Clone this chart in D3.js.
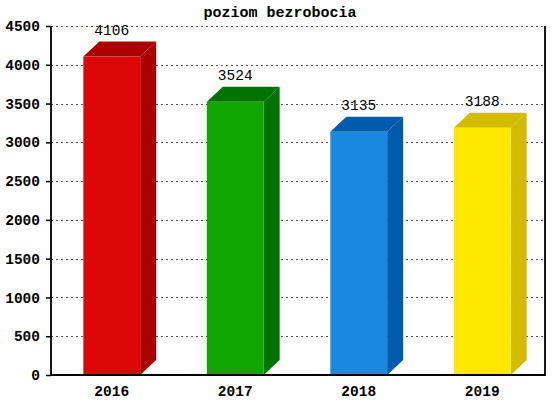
<!DOCTYPE html>
<html>
<head>
<meta charset="utf-8">
<script src="https://cdn.jsdelivr.net/npm/d3@7"></script>
<style>
  body { margin: 0; background: #fff; }
  text { font-family: "Liberation Mono", "DejaVu Sans Mono", monospace; }
</style>
</head>
<body>
<div id="chart"></div>
<script>
var years = ["2016", "2017", "2018", "2019"];
var values = [4106, 3524, 3135, 3188];
var frontColors = ["#dc0808", "#11a500", "#1a88dc", "#ffe800"];
var sideColors = ["#aa0000", "#007300", "#005bac", "#d3bb00"];
var yTicks = [0, 500, 1000, 1500, 2000, 2500, 3000, 3500, 4000, 4500];

var W = 560, H = 400;
var m = { left: 51, right: 15, top: 26, bottom: 25 };
var depthX = 16, depthY = 15;

var svg = d3.select("#chart").append("svg")
    .attr("width", W)
    .attr("height", H);

var x = d3.scaleBand()
    .domain(years)
    .range([m.left, W - m.right]);

var y = d3.scaleLinear()
    .domain([0, 4500])
    .range([H - m.bottom, m.top]);

var barW = x.bandwidth() * 0.46;
var barX = function(d) { return x(d) + (x.bandwidth() - barW) / 2 - 1; };

// grid
svg.append("g").selectAll("line")
    .data(yTicks.filter(function(t) { return t > 0; }))
    .enter().append("line")
    .attr("x1", m.left).attr("x2", W - m.right)
    .attr("y1", function(d) { return Math.round(y(d)) + 0.5; })
    .attr("y2", function(d) { return Math.round(y(d)) + 0.5; })
    .attr("stroke", "#555")
    .attr("stroke-dasharray", "2,3");

// bars
var data = years.map(function(yr, i) {
  return { year: yr, value: values[i], front: frontColors[i], side: sideColors[i] };
});

var bars = svg.append("g").selectAll("g")
    .data(data)
    .enter().append("g");

bars.append("polygon")
    .attr("fill", function(d) { return d.side; })
    .attr("points", function(d) {
      var x0 = barX(d.year), x1 = x0 + barW, yt = y(d.value), yb = y(0);
      return [[x1, yt], [x1 + depthX, yt - depthY], [x1 + depthX, yb - depthY], [x1, yb]].join(" ");
    });

bars.append("polygon")
    .attr("fill", function(d) { return d.side; })
    .attr("points", function(d) {
      var x0 = barX(d.year), x1 = x0 + barW, yt = y(d.value);
      return [[x0, yt], [x0 + depthX, yt - depthY], [x1 + depthX, yt - depthY], [x1, yt]].join(" ");
    });

bars.append("rect")
    .attr("fill", function(d) { return d.front; })
    .attr("x", function(d) { return barX(d.year); })
    .attr("y", function(d) { return y(d.value); })
    .attr("width", barW)
    .attr("height", function(d) { return y(0) - y(d.value); });

bars.append("text")
    .attr("x", function(d) { return barX(d.year) + barW / 2; })
    .attr("y", function(d) { return y(d.value) - depthY - 7; })
    .attr("text-anchor", "middle")
    .attr("font-size", 14.5)
    .attr("fill", "#000")
    .text(function(d) { return d.value; });

// axes
var yAxis = svg.append("g")
    .attr("transform", "translate(" + m.left + ",0)")
    .call(d3.axisLeft(y).tickValues(yTicks).tickFormat(function(d) { return d; })
      .tickSize(5).tickPadding(6));
yAxis.select(".domain").remove();
yAxis.selectAll("line").attr("stroke", "#000").attr("stroke-width", 1.5);
yAxis.selectAll("text")
    .attr("font-family", "Liberation Mono")
    .attr("font-size", 14.5)
    .attr("font-weight", "bold")
    .attr("fill", "#000");

var xAxis = svg.append("g")
    .attr("transform", "translate(0," + (H - m.bottom) + ")")
    .call(d3.axisBottom(x).tickSize(0).tickPadding(11));
xAxis.select(".domain").remove();
xAxis.selectAll("text")
    .attr("x", -1)
    .attr("font-family", "Liberation Mono")
    .attr("font-size", 14.5)
    .attr("font-weight", "bold")
    .attr("fill", "#000");

// frame: left, bottom, right
svg.append("path")
    .attr("d", "M" + m.left + "," + m.top + "V" + (H - m.bottom) + "H" + (W - m.right) + "V" + m.top)
    .attr("fill", "none")
    .attr("stroke", "#000")
    .attr("stroke-width", 1.8);

svg.append("text")
    .attr("x", 280)
    .attr("y", 17)
    .attr("text-anchor", "middle")
    .attr("font-size", 15)
    .attr("font-weight", "bold")
    .text("poziom bezrobocia");
</script>
</body>
</html>
